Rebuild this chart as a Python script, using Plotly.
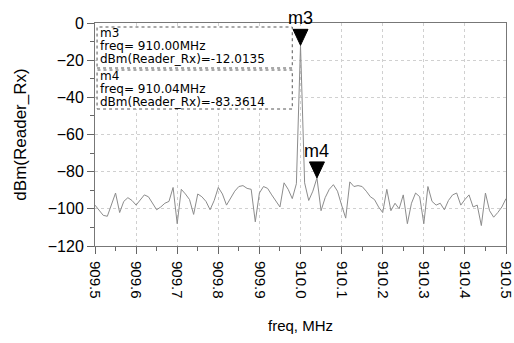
import plotly.graph_objects as go

# ---- data ----
freq = [round(909.50 + 0.01 * i, 2) for i in range(101)]
power = [
    -98, -101, -103.5, -104, -98, -91.5, -102, -96, -94, -95.5,
    -98, -95, -92.5, -93.5, -97, -100.5, -99, -97, -96, -88.5,
    -108, -89.5, -92, -95, -103, -92, -93.5, -96, -100.5, -95.5,
    -88.5, -92, -98, -94.5, -90.5, -88, -87.5, -89, -89.5, -107,
    -91.5, -88, -89, -92.5, -95.5, -99, -86, -89.5, -94.5, -86.5,
    -12.0135, -86, -95.5, -90.5, -83.3614, -101, -94, -89.5, -87, -90.5,
    -98, -105, -85.5, -88, -87.5, -88, -90.5, -93.5, -95, -99,
    -102, -89.5, -101, -97, -100, -92.5, -108, -97, -91.5, -93.5,
    -108, -88, -96, -98, -97, -100.5, -95.5, -92.5, -91.5, -98,
    -95, -92.5, -99, -98, -109, -91.5, -101, -104.5, -102, -99,
    -94.5,
]
marker_names = ["m3", "m4"]
marker_freq = [910.00, 910.04]
marker_val = [-12.0135, -83.3614]
signal_name = "Reader_Rx"

x_ticks = [909.5, 909.6, 909.7, 909.8, 909.9, 910.0, 910.1, 910.2, 910.3, 910.4, 910.5]
x_ticktext = ["909.5", "909.6", "909.7", "909.8", "909.9", "910.0", "910.1", "910.2", "910.3", "910.4", "910.5"]
y_ticks = [0, -20, -40, -60, -80, -100, -120]

FONT = "Liberation Sans, Arial, sans-serif"
BOXFONT = "DejaVu Sans, sans-serif"

PLOT_H = 223.0  # plot area height in px (343 - 23 - 97)

fig = go.Figure()
fig.add_trace(go.Scatter(x=freq, y=power, mode="lines",
                         line=dict(color="#8c8c8c", width=1), hoverinfo="skip"))

# marker triangles + labels
for name, f, v in zip(marker_names, marker_freq, marker_val):
    fig.add_shape(type="path", xref="x", yref="y", xsizemode="pixel", ysizemode="pixel",
                  xanchor=f, yanchor=v, path="M -7.5,16 L 7.5,16 L 0,0 Z",
                  fillcolor="black", line=dict(color="black", width=1))
    fig.add_annotation(x=f, y=v, xref="x", yref="y", text=name, showarrow=False,
                       xanchor="center", yanchor="bottom", yshift=15,
                       font=dict(family=FONT, size=18, color="black"))

# marker readout boxes (pixel offsets from top of plot area)
box_top_px = [4, 47]
box_bot_px = [45, 86]
first_line_px = [10, 53]
line_step_px = 13
for i, (name, f, v) in enumerate(zip(marker_names, marker_freq, marker_val)):
    top = 1 - box_top_px[i] / PLOT_H
    bot = 1 - box_bot_px[i] / PLOT_H
    fig.add_shape(type="rect", xref="paper", yref="paper", x0=0.005, x1=0.48, y0=bot, y1=top,
                  line=dict(color="#555", width=1, dash="dot"), fillcolor="white", layer="above")
    lines = [name, f"freq= {f:.2f}MHz", f"dBm({signal_name})={v:.4f}"]
    for j, t in enumerate(lines):
        ypx = first_line_px[i] + line_step_px * j
        fig.add_annotation(x=0.010, y=1 - ypx / PLOT_H, xref="paper", yref="paper",
                           text=t, showarrow=False, xanchor="left", yanchor="middle",
                           borderpad=0,
                           font=dict(family=BOXFONT, size=12, color="black"))

fig.update_layout(
    width=514, height=343,
    margin=dict(l=95, r=8, t=23, b=97),
    paper_bgcolor="white", plot_bgcolor="white",
    showlegend=False,
    font=dict(family=FONT, color="black"),
)
fig.update_xaxes(
    range=[909.5, 910.5], tickvals=x_ticks, ticktext=x_ticktext, tickangle=90,
    tickfont=dict(size=15), ticks="outside", ticklen=7, tickcolor="#666",
    ticklabelstandoff=4, ticklabeloverflow="allow", automargin=False,
    showline=True, linecolor="#777", mirror=True,
    showgrid=True, gridcolor="#d0d0d0", griddash="dot",
    minor=dict(dtick=0.05, ticks="outside", ticklen=4, tickcolor="#666", showgrid=False),
    title=dict(text="freq, MHz", font=dict(size=15), standoff=22),
    zeroline=False,
)
fig.update_yaxes(
    range=[-120, 0], tickvals=y_ticks, tickfont=dict(size=16),
    ticks="outside", ticklen=7, tickcolor="#666",
    showline=True, linecolor="#777", mirror=True,
    showgrid=True, gridcolor="#d0d0d0", griddash="dot",
    minor=dict(dtick=10, ticks="outside", ticklen=4, tickcolor="#666", showgrid=False),
    title=dict(text="dBm(Reader_Rx)", font=dict(size=17), standoff=16),
    zeroline=False,
)

fig.write_html("out.html")
